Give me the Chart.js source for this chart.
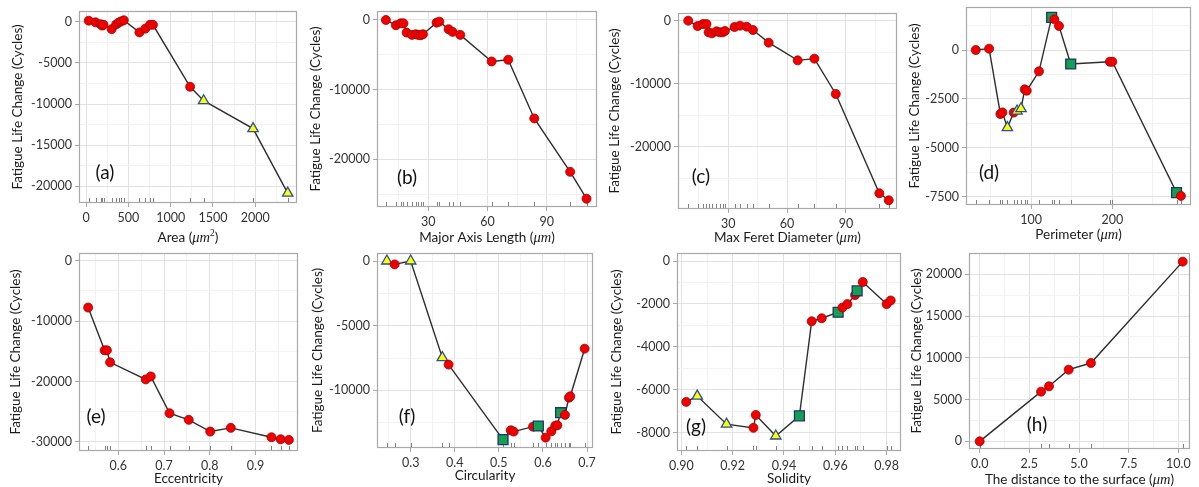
<!DOCTYPE html>
<html>
<head>
<meta charset="utf-8">
<title>Fatigue life change vs. pore features</title>
<script src="https://cdn.jsdelivr.net/npm/chart.js"></script>
<style>
  body { margin: 0; background: #fff; }
  #wrap { position: relative; width: 1199px; height: 487px; overflow: hidden; }
  #wrap canvas { position: absolute; }
</style>
</head>
<body>
<div id="wrap"></div>
<script>
const FONT = 'Lato, "Open Sans", sans-serif';

// kind codes: 0 = circle, 1 = triangle, 2 = square

// (a) Area
const areaX = [30, 111, 170, 188, 205, 301, 355, 385, 412, 445, 630, 700, 755, 790, 1230, 1390, 1975, 2385];
const areaY = [150, -50, -280, -450, -350, -880, -300, -80, 60, 200, -1280, -820, -350, -350, -7900, -9600, -13000, -20850];
const areaKind = [0, 0, 0, 0, 0, 0, 0, 0, 0, 0, 0, 0, 0, 0, 0, 1, 1, 1];
const areaTicksX = [0, 500, 1000, 1500, 2000];
const areaLabelsX = ['0', '500', '1000', '1500', '2000'];
const areaTicksY = [0, -5000, -10000, -15000, -20000];
const areaLabelsY = ['0', '-5000', '-10000', '-15000', '-20000'];

// (b) Major axis length
const majorX = [8.5, 13.6, 16.0, 17.4, 19.0, 21.7, 23.6, 24.9, 26.1, 27.3, 34.2, 35.6, 40.3, 42.3, 46.2, 62.1, 70.5, 83.7, 101.9, 110.2];
const majorY = [0, -760, -480, -480, -1810, -2140, -2050, -2140, -2190, -2050, -380, -240, -1330, -1710, -2140, -5960, -5710, -14140, -21810, -25670];
const majorKind = majorX.map(() => 0);
const majorTicksX = [30, 60, 90];
const majorLabelsX = ['30', '60', '90'];
const majorTicksY = [0, -10000, -20000];
const majorLabelsY = ['0', '-10000', '-20000'];

// (c) Max Feret diameter
const feretX = [9.6, 14.4, 17.1, 18.9, 20.0, 21.7, 24.0, 25.7, 27.1, 28.3, 33.2, 36.0, 39.4, 42.6, 50.6, 65.4, 73.9, 84.8, 107.0, 111.8];
const feretY = [0, -850, -530, -530, -1850, -2010, -1690, -1850, -1850, -1640, -1000, -790, -950, -1480, -3490, -6300, -6030, -11640, -27400, -28520];
const feretKind = feretX.map(() => 0);
const feretTicksX = [30, 60, 90];
const feretLabelsX = ['30', '60', '90'];
const feretTicksY = [0, -10000, -20000];
const feretLabelsY = ['0', '-10000', '-20000'];

// (d) Perimeter
const perimX = [32, 48.4, 62.3, 64.8, 70.9, 78.7, 82.8, 87.7, 92.2, 94.7, 109.8, 125.4, 128.7, 134.4, 148.8, 197, 200, 279, 284.4];
const perimY = [0, 70, -3270, -3190, -3970, -3200, -3120, -3000, -2010, -2080, -1090, 1670, 1570, 1230, -715, -600, -600, -7290, -7460];
const perimKind = [0, 0, 0, 0, 1, 0, 1, 1, 0, 0, 0, 2, 0, 0, 2, 0, 0, 2, 0];
const perimTicksX = [100, 200];
const perimLabelsX = ['100', '200'];
const perimTicksY = [0, -2500, -5000, -7500];
const perimLabelsY = ['0', '-2500', '-5000', '-7500'];

// (e) Eccentricity
const eccX = [0.534, 0.570, 0.575, 0.582, 0.660, 0.671, 0.712, 0.754, 0.801, 0.846, 0.935, 0.955, 0.973];
const eccY = [-7750, -14830, -14830, -16820, -19650, -19150, -25240, -26340, -28280, -27670, -29220, -29550, -29660];
const eccKind = eccX.map(() => 0);
const eccTicksX = [0.6, 0.7, 0.8, 0.9];
const eccLabelsX = ['0.6', '0.7', '0.8', '0.9'];
const eccTicksY = [0, -10000, -20000, -30000];
const eccLabelsY = ['0', '-10000', '-20000', '-30000'];

// (f) Circularity
const circX = [0.246, 0.2637, 0.300, 0.3718, 0.386, 0.5095, 0.527, 0.5337, 0.5775, 0.5896, 0.6062, 0.619, 0.628, 0.6327, 0.640, 0.650, 0.659, 0.662, 0.6947];
const circY = [0, -260, 0, -7470, -8010, -13810, -13090, -13190, -12810, -12760, -13660, -13170, -12730, -12700, -11730, -11900, -10570, -10460, -6780];
const circKind = [1, 0, 1, 1, 0, 2, 0, 0, 0, 2, 0, 0, 0, 0, 2, 0, 0, 0, 0];
const circTicksX = [0.3, 0.4, 0.5, 0.6, 0.7];
const circLabelsX = ['0.3', '0.4', '0.5', '0.6', '0.7'];
const circTicksY = [0, -5000, -10000];
const circLabelsY = ['0', '-5000', '-10000'];

// (g) Solidity
const solX = [0.9019, 0.9062, 0.9176, 0.9281, 0.9290, 0.9368, 0.9460, 0.9508, 0.9547, 0.9611, 0.9628, 0.9647, 0.9677, 0.9685, 0.9707, 0.9800, 0.9816];
const solY = [-6570, -6300, -7610, -7780, -7180, -8160, -7220, -2810, -2670, -2390, -2170, -2010, -1590, -1390, -980, -2010, -1840];
const solKind = [0, 1, 1, 0, 0, 1, 2, 0, 0, 2, 0, 0, 0, 2, 0, 0, 0];
const solTicksX = [0.90, 0.92, 0.94, 0.96, 0.98];
const solLabelsX = ['0.90', '0.92', '0.94', '0.96', '0.98'];
const solTicksY = [0, -2000, -4000, -6000, -8000];
const solLabelsY = ['0', '-2000', '-4000', '-6000', '-8000'];

// (h) Distance to the surface
const distX = [0, 3.09, 3.49, 4.48, 5.60, 10.22];
const distY = [0, 5950, 6590, 8580, 9380, 21520];
const distKind = distX.map(() => 0);
const distTicksX = [0, 2.5, 5, 7.5, 10];
const distLabelsX = ['0.0', '2.5', '5.0', '7.5', '10.0'];
const distTicksY = [0, 5000, 10000, 15000, 20000];
const distLabelsY = ['0', '5000', '10000', '15000', '20000'];

const MARK = [
  { style: 'circle', r: 4.5, fill: '#f20000', line: '#a00000', w: 0.8 },
  { style: 'triangle', r: 6, fill: '#ffff00', line: '#2b4ea0', w: 1.3 },
  { style: 'rect', r: 7, fill: '#14a04e', line: '#1d3570', w: 1.3 }
];

const UM = ['μm', 'i'];
const panels = [
  { tag: 'a', x: areaX, y: areaY, kind: areaKind, tx: areaTicksX, lx: areaLabelsX, ty: areaTicksY, ly: areaLabelsY,
    xr: [-85, 2495], yr: [-22060, 1330], plot: [79, 11, 297, 203], row: 0, yTitleX: 18, xTitleY: 237, tagAt: [105, 173],
    title: [['Area ('], UM, ['2', 's'], [')']] },
  { tag: 'b', x: majorX, y: majorY, kind: majorKind, tx: majorTicksX, lx: majorLabelsX, ty: majorTicksY, ly: majorLabelsY,
    xr: [4, 115.5], yr: [-26860, 1290], plot: [377, 11, 597, 207], row: 0, yTitleX: 316, xTitleY: 237, tagAt: [407, 178],
    title: [['Major Axis Length ('], UM, [')']] },
  { tag: 'c', x: feretX, y: feretY, kind: feretKind, tx: feretTicksX, lx: feretLabelsX, ty: feretTicksY, ly: feretLabelsY,
    xr: [4.4, 116], yr: [-29900, 1220], plot: [678, 13, 897, 209], row: 0, yTitleX: 615, xTitleY: 237, tagAt: [701, 177],
    title: [['Max Feret Diameter ('], UM, [')']] },
  { tag: 'd', x: perimX, y: perimY, kind: perimKind, tx: perimTicksX, lx: perimLabelsX, ty: perimTicksY, ly: perimLabelsY,
    xr: [20, 296.8], yr: [-7925, 2200], plot: [966, 7, 1191, 205], row: 0, yTitleX: 915, xTitleY: 234, tagAt: [989, 173],
    title: [['Perimeter ('], UM, [')']] },
  { tag: 'e', x: eccX, y: eccY, kind: eccKind, tx: eccTicksX, lx: eccLabelsX, ty: eccTicksY, ly: eccLabelsY,
    xr: [0.514, 0.993], yr: [-31500, 1280], plot: [79, 253, 298, 451], row: 1, yTitleX: 16, xTitleY: 478, tagAt: [96, 417],
    title: [['Eccentricity']] },
  { tag: 'f', x: circX, y: circY, kind: circKind, tx: circTicksX, lx: circLabelsX, ty: circTicksY, ly: circLabelsY,
    xr: [0.2236, 0.7136], yr: [-14460, 620], plot: [377, 253, 593, 448], row: 1, yTitleX: 318, xTitleY: 475, tagAt: [407, 417],
    title: [['Circularity']] },
  { tag: 'g', x: solX, y: solY, kind: solKind, tx: solTicksX, lx: solLabelsX, ty: solTicksY, ly: solLabelsY,
    xr: [0.8983, 0.9856], yr: [-8860, 374], plot: [677, 253, 901, 451], row: 1, yTitleX: 617, xTitleY: 478, tagAt: [696, 427],
    title: [['Solidity']] },
  { tag: 'h', x: distX, y: distY, kind: distKind, tx: distTicksX, lx: distLabelsX, ty: distTicksY, ly: distLabelsY,
    xr: [-0.537, 10.587], yr: [-918, 22555], plot: [969, 253, 1190, 449], row: 1, yTitleX: 917, xTitleY: 479, tagAt: [1037, 425],
    title: [['The distance to the surface ('], UM, [')']] }
];

// major ticks carry a label, minor ones sit halfway between and only draw a faint grid line
function gridTicks(major, labels, lo, hi) {
  const step = major[1] - major[0];
  const ticks = major.map((v, i) => ({ value: v, txt: labels[i] }));
  for (let k = -3; k < major.length + 3; k++) {
    const v = major[0] + (k + 0.5) * step;
    if (v > lo && v < hi) ticks.push({ value: v, minor: true });
  }
  return ticks.sort((a, b) => a.value - b.value);
}

function runFont(style) {
  if (style === 'i') return 'italic 14.5px "Liberation Serif", serif';
  if (style === 's') return '9.5px "Liberation Serif", serif';
  return '13.5px ' + FONT;
}

const panelDecor = {
  id: 'panelDecor',
  beforeDatasetsDraw(chart, args, o) {
    const { ctx, chartArea: a, scales: { x } } = chart;
    ctx.save();
    ctx.strokeStyle = '#808080';
    ctx.lineWidth = 1;
    o.rug.forEach(v => {
      const px = Math.round(x.getPixelForValue(v)) + 0.5;
      ctx.beginPath();
      ctx.moveTo(px, a.bottom);
      ctx.lineTo(px, a.bottom - 5);
      ctx.stroke();
    });
    ctx.restore();
  },
  afterDraw(chart, args, o) {
    const { ctx, chartArea: a } = chart;
    ctx.save();
    ctx.strokeStyle = '#a8a8a8';
    ctx.lineWidth = 1.2;
    ctx.strokeRect(a.left + 0.5, a.top + 0.5, a.right - a.left - 1, a.bottom - a.top - 1);

    ctx.fillStyle = '#111';
    ctx.font = '19px ' + FONT;
    ctx.textAlign = 'center';
    ctx.textBaseline = 'middle';
    ctx.fillText('(' + o.tag + ')', o.tagX, o.tagY);

    // axis title built from plain, italic and superscript runs
    let total = 0;
    o.title.forEach(r => { ctx.font = runFont(r[1]); total += ctx.measureText(r[0]).width; });
    let cx = (a.left + a.right) / 2 - total / 2;
    ctx.textAlign = 'left';
    ctx.textBaseline = 'alphabetic';
    ctx.fillStyle = '#1a1a1a';
    o.title.forEach(r => {
      ctx.font = runFont(r[1]);
      ctx.fillText(r[0], cx, r[1] === 's' ? o.titleY - 1 : o.titleY + 5);
      cx += ctx.measureText(r[0]).width;
    });
    ctx.restore();
  }
};

const gridOpts = {
  color: c => (c.tick && c.tick.minor ? '#f2f2f2' : '#e2e2e2'),
  lineWidth: 1,
  tickColor: c => (c.tick && c.tick.minor ? 'rgba(0,0,0,0)' : '#a8a8a8'),
  tickLength: 4
};
const tickOpts = {
  autoSkip: false,
  maxRotation: 0,
  padding: 3,
  color: '#333',
  font: { family: FONT, size: 12.5 },
  callback: (v, i, ts) => ts[i].txt || ''
};

const wrap = document.getElementById('wrap');
panels.forEach(p => {
  const [l, t, r, b] = p.plot;
  const top = p.row ? 244 : 0;
  const bottom = p.row ? 487 : 252;
  const left = Math.round(p.yTitleX - 8);
  const right = Math.min(1199, r + 14);

  const cv = document.createElement('canvas');
  cv.width = right - left;
  cv.height = bottom - top;
  cv.style.left = left + 'px';
  cv.style.top = top + 'px';
  wrap.appendChild(cv);

  new Chart(cv, {
    type: 'scatter',
    data: {
      datasets: [{
        data: p.x.map((v, i) => ({ x: v, y: p.y[i] })),
        showLine: true,
        tension: 0,
        borderColor: '#2d2d2d',
        borderWidth: 1.4,
        pointStyle: p.kind.map(k => MARK[k].style),
        pointRadius: p.kind.map(k => MARK[k].r),
        pointBackgroundColor: p.kind.map(k => MARK[k].fill),
        pointBorderColor: p.kind.map(k => MARK[k].line),
        pointBorderWidth: p.kind.map(k => MARK[k].w),
        clip: false
      }]
    },
    options: {
      responsive: false,
      animation: false,
      events: [],
      layout: { padding: { left: 0, top: t - top, right: right - r, bottom: 0 } },
      plugins: {
        legend: { display: false },
        tooltip: { enabled: false },
        panelDecor: {
          rug: p.x,
          tag: p.tag,
          tagX: p.tagAt[0] - left,
          tagY: p.tagAt[1] - top,
          title: p.title,
          titleY: p.xTitleY - top
        }
      },
      scales: {
        x: {
          type: 'linear',
          min: p.xr[0],
          max: p.xr[1],
          bounds: 'data',
          afterBuildTicks: s => { s.ticks = gridTicks(p.tx, p.lx, p.xr[0], p.xr[1]); },
          afterFit: s => { s.height = bottom - b; s.paddingLeft = 0; s.paddingRight = 0; },
          grid: gridOpts,
          border: { display: false },
          ticks: tickOpts
        },
        y: {
          type: 'linear',
          min: p.yr[0],
          max: p.yr[1],
          bounds: 'data',
          afterBuildTicks: s => { s.ticks = gridTicks(p.ty, p.ly, p.yr[0], p.yr[1]); },
          afterFit: s => { s.width = l - left; s.paddingTop = 0; s.paddingBottom = 0; },
          grid: gridOpts,
          border: { display: false },
          ticks: tickOpts,
          title: {
            display: true,
            text: 'Fatigue Life Change (Cycles)',
            color: '#1a1a1a',
            font: { family: FONT, size: 13.5 },
            padding: 0
          }
        }
      }
    },
    plugins: [panelDecor]
  });
});
</script>
</body>
</html>
